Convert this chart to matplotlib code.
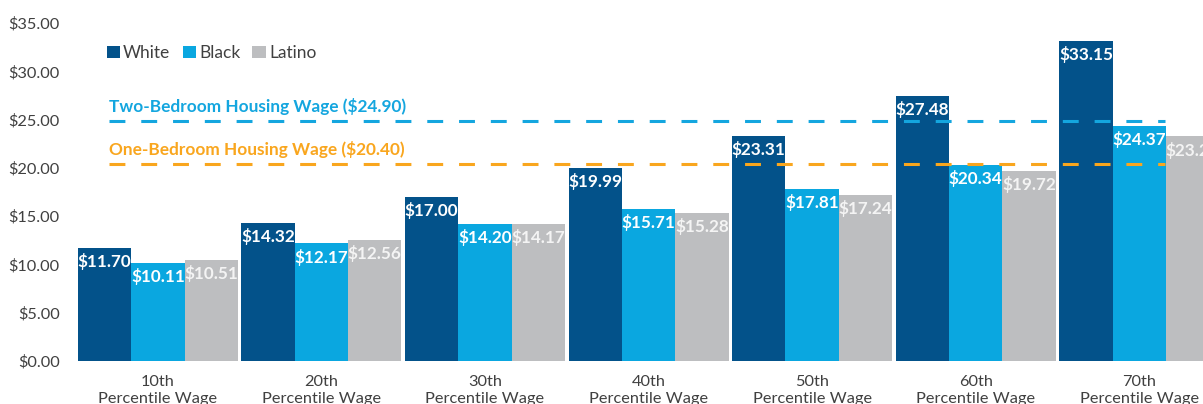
import matplotlib.pyplot as plt
import numpy as np

plt.rcParams['font.family'] = ['Lato', 'DejaVu Sans']

groups = ['10th\nPercentile Wage', '20th\nPercentile Wage', '30th\nPercentile Wage',
          '40th\nPercentile Wage', '50th\nPercentile Wage', '60th\nPercentile Wage',
          '70th\nPercentile Wage']
white = [11.70, 14.32, 17.00, 19.99, 23.31, 27.48, 33.15]
black = [10.11, 12.17, 14.20, 15.71, 17.81, 20.34, 24.37]
latino = [10.51, 12.56, 14.17, 15.28, 17.24, 19.72, 23.25]
two_bed = 24.90
one_bed = 20.40

c_white = '#03528a'
c_black = '#0aa7e0'
c_latino = '#bdbec0'
c_two = '#14a6df'
c_one = '#f9a61e'
txt = '#404040'

fig = plt.figure(figsize=(12.03, 4.04), dpi=100)
ax = fig.add_axes([0.0565, 0.1064, 0.9435, 0.8366])

x = np.arange(len(groups))
w = 0.326
series = [(white, c_white, 'White', 'white'),
          (black, c_black, 'Black', 'white'),
          (latino, c_latino, 'Latino', '#f4f4f4')]
for i, (vals, col, name, tcol) in enumerate(series):
    pos = x + (i - 1) * w
    ax.bar(pos, vals, width=w, color=col, label=name, zorder=2)
    for p, v in zip(pos, vals):
        ax.text(p, v - 1.4, f'${v:.2f}', ha='center', va='center', color=tcol,
                fontsize=12.3, fontweight='bold', zorder=4, clip_on=True)

# housing wage lines
for val, col, lab in [(two_bed, c_two, 'Two-Bedroom Housing Wage ($24.90)'),
                      (one_bed, c_one, 'One-Bedroom Housing Wage ($20.40)')]:
    ln, = ax.plot([-0.30, 6.16], [val, val], color=col, lw=2.2, zorder=3)
    ln.set_dashes((5.2, 5.2))
    ax.text(-0.30, val + 0.6, lab, color=col, fontsize=12.4, fontweight='bold',
            ha='left', va='bottom', zorder=3)

ax.set_xlim(-0.55, 6.39)
ax.set_ylim(0, 35)
ax.set_yticks(np.arange(0, 36, 5))
ax.set_yticklabels([f'${t:.2f}' for t in np.arange(0, 36, 5)])
ax.set_xticks(x)
ax.set_xticklabels(groups, linespacing=1.3)
ax.tick_params(axis='both', length=0, labelsize=11.8, labelcolor=txt)
ax.tick_params(axis='y', pad=6)
ax.tick_params(axis='x', pad=10)
for s in ax.spines.values():
    s.set_visible(False)

ax.legend(loc='upper left', bbox_to_anchor=(0.028, 0.955), ncol=3, frameon=False,
          handlelength=0.75, handleheight=0.75, handletextpad=0.2, columnspacing=0.7,
          fontsize=12.5, labelcolor=txt, borderaxespad=0)

fig.savefig('out.png', dpi=100)
